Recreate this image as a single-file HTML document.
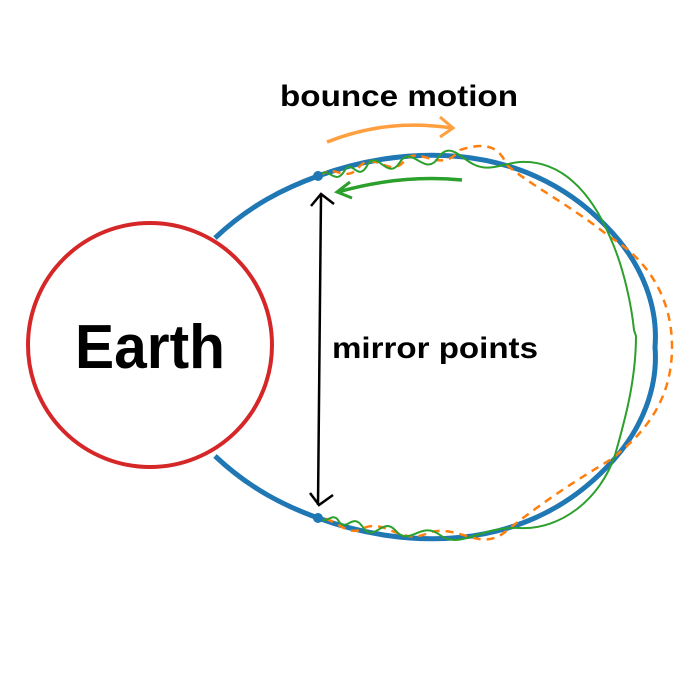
<!DOCTYPE html>
<html><head><style>body{margin:0;background:#fff}svg{display:block}</style></head><body>
<svg width="700" height="700" viewBox="0 0 700 700" xmlns="http://www.w3.org/2000/svg">
<rect width="700" height="700" fill="#fff"/>
<circle cx="150" cy="345" r="122" fill="none" stroke="#d62728" stroke-width="4"/>
<text x="150" y="368" text-anchor="middle" font-family="Liberation Sans, sans-serif" font-weight="bold" font-size="62" textLength="150" lengthAdjust="spacingAndGlyphs">Earth</text>
<path d="M215,238 C250,205 285,188 318,176 C400,146 520,138 605,225 C645,265 658,310 655,347 C658,384 645,429 605,469 C520,556 400,548 318,518 C285,506 250,489 215,456" fill="none" stroke="#1f77b4" stroke-width="5"/>
<path d="M320,176 C335,162 345,185 360,166 C375,150 390,180 405,160 C420,145 440,175 460,150 C490,140 500,150 507,165 C530,185 570,205 610,237 C640,255 672,290 672,347 C672,395 650,430 610,460 C580,478 545,500 505,532 C480,552 460,525 430,532 C400,548 385,515 360,530 C345,535 335,518 320,518" fill="none" stroke="#ff7f0e" stroke-width="2.5" stroke-dasharray="8,6"/>
<path d="M320,176 C328,164 335,188 345,170 C352,158 358,184 368,164 C378,150 388,182 400,162 C412,144 425,178 438,158 C450,140 462,160 475,165 C490,172 505,163 520,162 C560,160 590,190 610,237 C625,270 632,310 634,330 L636,336 C636,380 625,420 615,455 C600,500 560,530 520,528 C480,526 460,550 440,535 C420,520 410,548 395,530 C382,516 374,545 362,526 C352,512 346,534 338,520 C332,512 326,525 320,518" fill="none" stroke="#2ca02c" stroke-width="2"/>
<circle cx="318" cy="176" r="5" fill="#1f77b4"/>
<circle cx="318" cy="518" r="5" fill="#1f77b4"/>
<path d="M327,142 C370,125 410,122 452,128" fill="none" stroke="#ff9f40" stroke-width="3.5"/>
<path d="M440,117 L453,128 L440,137" fill="none" stroke="#ff9f40" stroke-width="3"/>
<path d="M462,180 C420,176 380,180 338,192" fill="none" stroke="#2ca02c" stroke-width="3.5"/>
<path d="M350,182 L337,192 L352,198" fill="none" stroke="#2ca02c" stroke-width="3"/>
<line x1="321" y1="195" x2="318" y2="505" stroke="#000" stroke-width="2.5"/>
<path d="M311,206 L321,194 L334,204" fill="none" stroke="#000" stroke-width="2.5"/>
<path d="M310,493 L319,505 L333,495" fill="none" stroke="#000" stroke-width="2.5"/>
<text x="280" y="106" font-family="Liberation Sans, sans-serif" font-weight="bold" font-size="30" textLength="238" lengthAdjust="spacingAndGlyphs">bounce motion</text>
<text x="332" y="358" font-family="Liberation Sans, sans-serif" font-weight="bold" font-size="30" textLength="206" lengthAdjust="spacingAndGlyphs">mirror points</text>
</svg>
</body></html>
